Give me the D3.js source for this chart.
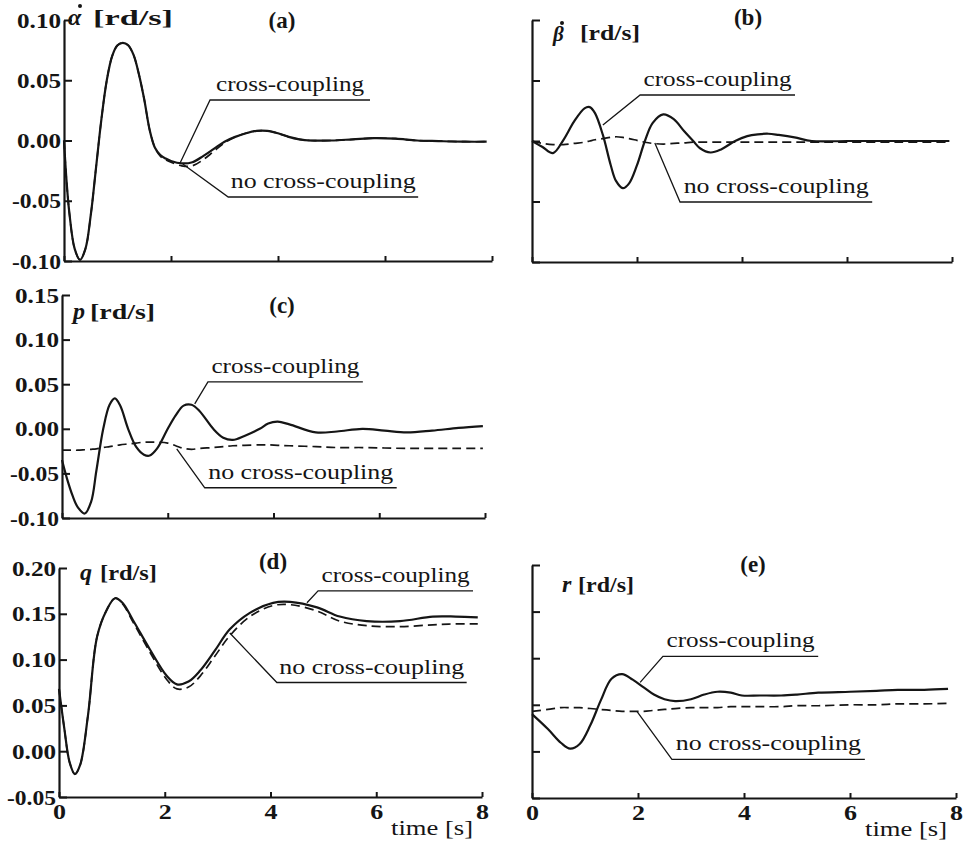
<!DOCTYPE html>
<html><head><meta charset="utf-8">
<script src="https://cdn.jsdelivr.net/npm/d3@7"></script>
<style>body{margin:0;background:#fff} svg{display:block} text{font-family:"Liberation Serif", "Times New Roman", Times, serif;}</style>
</head><body><svg id="c" width="969" height="843"></svg>
<script>
// ---------- data ----------
const xTicks = [0, 2, 4, 6, 8];
const yTicksA = [-0.10, -0.05, 0.00, 0.05, 0.10];
const yTicksC = [-0.10, -0.05, 0.00, 0.05, 0.10, 0.15];
const yTicksD = [-0.05, 0.00, 0.05, 0.10, 0.15, 0.20];
const ccLabel = "cross-coupling";
const ncLabel = "no cross-coupling";

// (a) alpha-dot
const tA = [0,0.05,0.1,0.2,0.3,0.4,0.5,0.6,0.7,0.8,0.9,1.0,1.1,1.2,1.3,1.4,1.5,1.6,1.7,1.8,1.9,2.0,2.2,2.4,2.6,2.8,3.0,3.2,3.4,3.6,3.8,4.0,4.2,4.4,4.6,5.0,5.4,5.8,6.2,6.6,7.0,7.5,7.9];
const alphaCC = [0,-0.035,-0.06,-0.09,-0.099,-0.09,-0.062,-0.022,0.018,0.05,0.07,0.079,0.081,0.079,0.071,0.055,0.034,0.009,-0.006,-0.012,-0.015,-0.017,-0.019,-0.018,-0.013,-0.007,-0.001,0.003,0.006,0.008,0.008,0.006,0.003,0.001,0.0,0.0,0.001,0.002,0.0015,0.0,-0.0005,-0.001,-0.001];
const alphaNC = [0,-0.035,-0.06,-0.09,-0.099,-0.09,-0.062,-0.022,0.018,0.05,0.07,0.079,0.081,0.079,0.071,0.055,0.034,0.009,-0.006,-0.013,-0.016,-0.018,-0.021,-0.021,-0.016,-0.009,-0.002,0.003,0.006,0.008,0.008,0.006,0.003,0.001,0.0,0.0,0.001,0.002,0.0015,0.0,-0.0005,-0.001,-0.001];

// (b) beta-dot
const tB = [0,0.2,0.4,0.6,0.8,1.0,1.1,1.2,1.35,1.5,1.6,1.73,1.85,2.0,2.15,2.3,2.5,2.7,2.9,3.07,3.2,3.4,3.6,3.87,4.1,4.3,4.5,4.7,5.0,5.33,6.0,7.0,7.95];
const betaCC = [0,-0.005,-0.01,0.001,0.016,0.027,0.028,0.023,0.005,-0.02,-0.033,-0.039,-0.035,-0.02,0.0,0.015,0.022,0.018,0.008,0.0,-0.006,-0.0095,-0.007,0.0,0.004,0.0055,0.006,0.005,0.003,0.0,0,0,0];
const betaNC = [0,-0.002,-0.003,-0.003,-0.002,-0.001,0,0.001,0.002,0.003,0.0035,0.003,0.002,0.0005,-0.001,-0.002,-0.0025,-0.002,-0.0015,-0.001,-0.001,-0.001,-0.001,-0.001,-0.001,-0.001,-0.001,-0.001,-0.001,-0.001,-0.001,-0.001,-0.001];

// (c) p
const tC = [0,0.1,0.2,0.3,0.43,0.55,0.65,0.78,0.9,1.0,1.1,1.25,1.4,1.55,1.66,1.8,2.0,2.15,2.3,2.45,2.6,2.86,3.05,3.23,3.45,3.74,3.9,4.08,4.3,4.8,5.2,5.68,6.1,6.52,7.0,7.5,7.96];
const pCC = [-0.035,-0.057,-0.075,-0.088,-0.095,-0.082,-0.047,0.0,0.027,0.034,0.026,0.0,-0.02,-0.029,-0.030,-0.022,0.0,0.015,0.026,0.027,0.02,0.0,-0.01,-0.0125,-0.008,0.0,0.006,0.008,0.005,-0.004,-0.003,0.0,-0.002,-0.004,-0.002,0.001,0.003];
const pNC = [-0.024,-0.024,-0.024,-0.024,-0.0235,-0.023,-0.0225,-0.021,-0.02,-0.019,-0.018,-0.017,-0.016,-0.015,-0.015,-0.015,-0.016,-0.019,-0.022,-0.023,-0.022,-0.021,-0.02,-0.019,-0.0185,-0.018,-0.018,-0.0185,-0.019,-0.02,-0.021,-0.021,-0.0215,-0.022,-0.022,-0.022,-0.022];

// (d) q
const tD = [0,0.1,0.2,0.3,0.4,0.55,0.72,0.9,1.06,1.2,1.4,1.72,2.04,2.23,2.45,2.67,2.95,3.23,3.61,4.05,4.37,4.88,5.31,5.82,6.45,7.07,7.5,7.92];
const qCC = [0.068,0.025,-0.012,-0.025,-0.015,0.04,0.125,0.154,0.167,0.162,0.143,0.111,0.082,0.073,0.076,0.088,0.11,0.133,0.151,0.162,0.163,0.157,0.147,0.142,0.142,0.147,0.147,0.146];
const qNC = [0.068,0.025,-0.012,-0.025,-0.015,0.04,0.125,0.154,0.167,0.161,0.141,0.108,0.078,0.068,0.070,0.082,0.104,0.126,0.147,0.159,0.16,0.153,0.142,0.137,0.136,0.138,0.139,0.139];

// (e) r
const tE = [0,0.3,0.55,0.72,0.9,1.1,1.3,1.5,1.7,1.9,2.1,2.3,2.5,2.7,3.0,3.25,3.5,3.75,3.96,4.3,4.7,5.0,5.4,6.0,6.5,6.9,7.4,7.85];
const rCC = [0.04,0.024,0.009,0.003,0.008,0.028,0.055,0.078,0.083,0.077,0.069,0.061,0.056,0.054,0.056,0.061,0.064,0.063,0.060,0.060,0.060,0.061,0.063,0.064,0.065,0.066,0.066,0.067];
const rNC = [0.043,0.045,0.047,0.047,0.047,0.046,0.045,0.044,0.043,0.043,0.043,0.044,0.045,0.046,0.047,0.047,0.047,0.048,0.048,0.048,0.048,0.049,0.049,0.050,0.050,0.051,0.051,0.0515];

// ---------- layout ----------
const panels = [
  {id:"(a)", sym:"α", dot:true, x:[64,492], y:[261,20], dom:[-0.10,0.10], yticks:yTicksA, ylab:true, xlab:false,
   t:tA, cc:alphaCC, nc:alphaNC,
   title:{sx:4, sy:5, ss:24, dx:16, dy:-14, bx:29, by:5, bw:80, lx:218, ly:8},
   ccA:{t0:2.73, t1:5.72, v:0.0336, tt:2.17, tv:-0.0187}, ncA:{t0:3.07, t1:6.62, v:-0.0469, tt:2.22, tv:-0.0195}},
  {id:"(b)", sym:"β", dot:true, x:[532,952], y:[262,20], dom:[-0.10,0.10], yticks:yTicksA, ylab:false, xlab:false,
   t:tB, cc:betaCC, nc:betaNC,
   title:{sx:21, sy:21, ss:21, dx:30, dy:3, bx:48, by:20, bw:60, lx:216, ly:5},
   ccA:{t0:2.06, t1:5.01, v:0.038, tt:1.35, tv:0.0132}, ncA:{t0:2.82, t1:6.48, v:-0.0504, tt:2.34, tv:-0.0017}},
  {id:"(c)", sym:"p", dot:false, x:[62,485], y:[518,295], dom:[-0.10,0.15], yticks:yTicksC, ylab:true, xlab:false,
   t:tC, cc:pCC, nc:pNC,
   title:{sx:11, sy:24, ss:24, bx:28, by:24, bw:65, lx:220, ly:18},
   ccA:{t0:2.76, t1:5.69, v:0.0527, tt:2.51, tv:0.028}, ncA:{t0:2.70, t1:6.33, v:-0.0661, tt:2.17, tv:-0.0224}},
  {id:"(d)", sym:"q", dot:false, x:[59,482], y:[797,568], dom:[-0.05,0.20], yticks:yTicksD, ylab:true, xlab:true,
   t:tD, cc:qCC, nc:qNC,
   title:{sx:21, sy:12, ss:24, bx:41, by:12, bw:57, lx:214, ly:1},
   ccA:{t0:4.90, t1:7.83, v:0.175, tt:4.69, tv:0.162}, ncA:{t0:4.12, t1:7.71, v:0.075, tt:3.23, tv:0.129}},
  {id:"(e)", sym:"r", dot:false, x:[532,956], y:[798,565], dom:[-0.05,0.20], yticks:yTicksD, ylab:false, xlab:true,
   t:tE, cc:rCC, nc:rNC,
   title:{sx:30, sy:27, ss:24, bx:46, by:27, bw:56, lx:221, ly:7},
   ccA:{t0:2.47, t1:5.40, v:0.102, tt:2.04, tv:0.074}, ncA:{t0:2.64, t1:6.28, v:-0.0086, tt:1.98, tv:0.043}}
];

const ink = "#151515";
const svg = d3.select("#c");
svg.append("rect").attr("width",969).attr("height",843).attr("fill","#fff");

function fmt(v){ return d3.format(".2f")(v).replace("−","-"); }

panels.forEach(p => {
  const g = svg.append("g");
  const xs = d3.scaleLinear().domain([0,8]).range(p.x);
  const ys = d3.scaleLinear().domain(p.dom).range(p.y);

  // y axis
  const ya = d3.axisLeft(ys).tickValues(p.yticks).tickSizeInner(-8).tickSizeOuter(0).tickPadding(3)
    .tickFormat(p.ylab ? fmt : () => "");
  const yg = g.append("g").attr("transform", `translate(${p.x[0]},0)`).call(ya);
  yg.attr("font-family", null);
  yg.select(".domain").attr("stroke", ink).attr("stroke-width", 2.2);
  yg.selectAll(".tick line").attr("stroke", ink).attr("stroke-width", 2);
  yg.selectAll(".tick text").attr("fill", ink).attr("font-weight","bold")
    .attr("font-size", 21).attr("dy","0.34em")
    .attr("textLength", d => (d < 0 ? 49 : 44)).attr("lengthAdjust","spacingAndGlyphs");

  // x axis
  const xa = d3.axisBottom(xs).tickValues(xTicks).tickSizeInner(-5).tickSizeOuter(0).tickPadding(6)
    .tickFormat(p.xlab ? d3.format("d") : () => "");
  const xg = g.append("g").attr("transform", `translate(0,${p.y[0]})`).call(xa);
  xg.attr("font-family", null);
  xg.select(".domain").attr("stroke", ink).attr("stroke-width", 2.2);
  xg.selectAll(".tick line").attr("stroke", ink).attr("stroke-width", 2);
  xg.selectAll(".tick text").attr("fill", ink).attr("font-weight","bold")
    .attr("font-size", 22).attr("textLength", 13).attr("lengthAdjust","spacingAndGlyphs");
  if (p.xlab) {
    g.append("text").attr("x", p.x[1] - 9).attr("y", p.y[0] + 38).attr("text-anchor","end")
      .attr("font-size", 22).attr("fill", ink)
      .attr("textLength", 82).attr("lengthAdjust","spacingAndGlyphs").text("time  [s]");
  }

  // curves
  const line = d3.line().x(d => xs(d[0])).y(d => ys(d[1])).curve(d3.curveCatmullRom.alpha(0.5));
  g.append("path").datum(p.t.map((t,i) => [t, p.nc[i]])).attr("d", line)
    .attr("fill","none").attr("stroke", ink).attr("stroke-width", 1.7).attr("stroke-dasharray","9,5");
  g.append("path").datum(p.t.map((t,i) => [t, p.cc[i]])).attr("d", line)
    .attr("fill","none").attr("stroke", ink).attr("stroke-width", 2.2);

  // titles
  const T = p.title, top = p.y[1], x0 = p.x[0];
  g.append("text").attr("x", x0 + T.sx).attr("y", top + T.sy)
    .attr("font-style","italic").attr("font-weight","bold").attr("font-size", T.ss).attr("fill", ink).text(p.sym);
  if (p.dot) {
    g.append("circle").attr("cx", x0 + T.dx).attr("cy", top + T.dy).attr("r", 2).attr("fill", ink);
  }
  g.append("text").attr("x", x0 + T.bx).attr("y", top + T.by)
    .attr("font-weight","bold").attr("font-size", 22).attr("fill", ink)
    .attr("textLength", T.bw).attr("lengthAdjust","spacingAndGlyphs").text("[rd/s]");
  g.append("text").attr("x", x0 + T.lx).attr("y", top + T.ly).attr("text-anchor","middle")
    .attr("font-weight","bold").attr("font-size", 23).attr("fill", ink).text(p.id);

  // annotations
  [[p.ccA, ccLabel, 148], [p.ncA, ncLabel, 185]].forEach(([a, label, w]) => {
    const ux0 = xs(a.t0), ux1 = xs(a.t1), uy = ys(a.v);
    g.append("path").attr("d", `M${xs(a.tt)},${ys(a.tv)}L${ux0},${uy}L${ux1},${uy}`)
      .attr("fill","none").attr("stroke", ink).attr("stroke-width", 1.3);
    g.append("text").attr("x", ux0 + (ux1 - ux0 - w) / 2).attr("y", uy - 9)
      .attr("font-size", 22).attr("fill", ink)
      .attr("textLength", w).attr("lengthAdjust","spacingAndGlyphs").text(label);
  });
});
</script></body></html>
